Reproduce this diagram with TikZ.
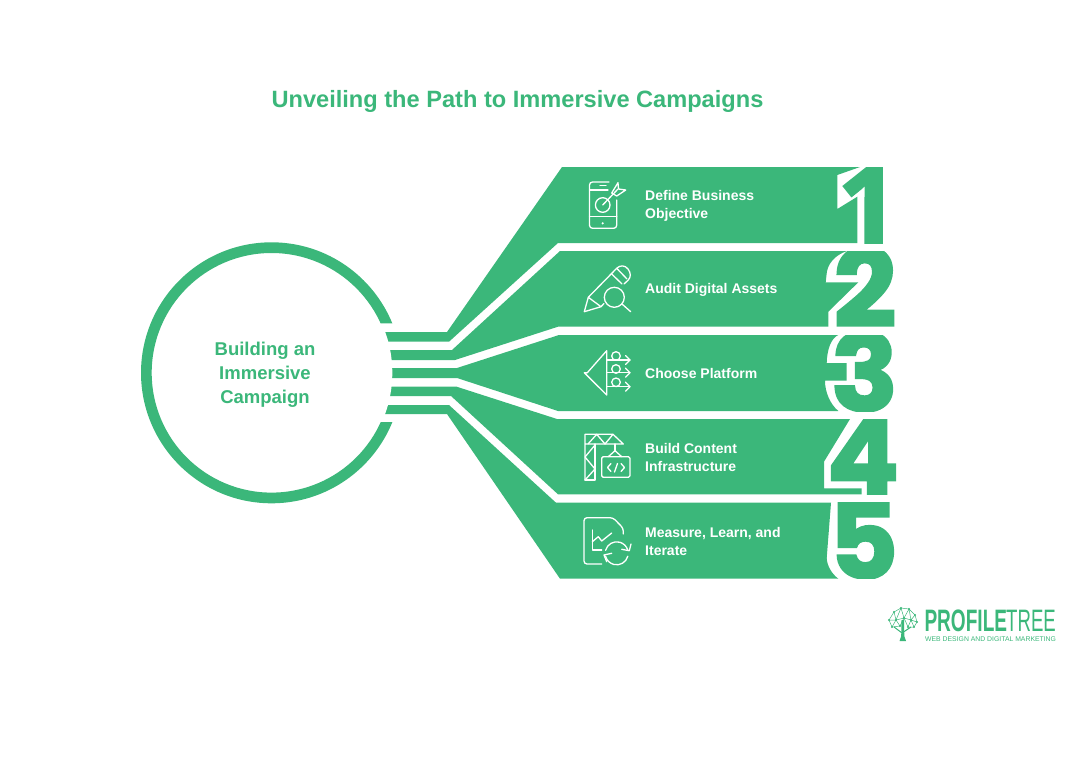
\documentclass[tikz,border=0pt]{standalone}
\usepackage{fontspec}
\setmainfont{Liberation Sans}
\newfontfamily\numface[FakeBold=2]{Poppins Bold}
\newfontfamily\numone[FakeBold=2]{Open Sans Bold}
\definecolor{campgreen}{HTML}{3BB77A}

\tikzset{
  bandfill/.style={fill=campgreen},
  iconline/.style={draw=white,line width=1.3pt,line cap=round,line join=round},
  labeltext/.style={text=white,font=\bfseries\fontsize{14}{18}\selectfont,anchor=west,align=left,inner sep=0pt},
  logoline/.style={draw=campgreen,line width=.5pt}
}

\begin{document}
\begin{tikzpicture}[x=1pt,y=-1pt]
\useasboundingbox (0,0) rectangle (1089,768);

\node[text=campgreen,font=\bfseries\fontsize{23.6}{28}\selectfont,inner sep=0pt] (title) at (517.5,101.5) {Unveiling the Path to Immersive Campaigns};

% bands
\fill[bandfill] (375,332) -- (447,332) -- (562,167) -- (860,167) -- (837.3,175) -- (837.3,209) -- (857.3,196.7) -- (857.3,243) -- (558,243) -- (449,341.7) -- (375,341.7) -- cycle;
\fill[bandfill] (375,350) -- (452,350) -- (560,251) -- (847,251) .. controls (835,255) and (827,264) .. (826.5,275) -- (825.7,282.3) -- (858.3,282.3) -- (828.3,311.7) -- (828.3,326.7) -- (558,326.7) -- (455,360) -- (375,360) -- cycle;
\fill[bandfill] (375,368) -- (457,368) -- (559,335) -- (838.3,335) .. controls (831,338) and (827,350) .. (826.7,363) -- (846.7,363) -- (846.7,380.7) -- (825,380.7) .. controls (825,392) and (830,404) .. (838.3,411) -- (558,411) -- (457,378) -- (375,378) -- cycle;
\fill[bandfill] (375,386.5) -- (456,386.5) -- (557,419) -- (850,419) -- (824,461.7) -- (824,488.3) -- (861.7,488.3) -- (861.7,494.3) -- (558,494.3) -- (451,396) -- (375,396) -- cycle;
\fill[bandfill] (375,405) -- (449,405) -- (556,502.7) -- (831,502.7) -- (826.7,558) .. controls (827,566) and (832,574) .. (838.3,578.7) -- (560,578.7) -- (447,414) -- (375,414) -- cycle;

% circle
\fill[white] (271.5,372.8) circle[radius=120.8];
\begin{scope}
\clip (130,230) rectangle (271.5,515) (271.5,230) rectangle (400,323.3) (271.5,422) rectangle (400,515);
\fill[campgreen,even odd rule] (271.5,372.8) circle[radius=130.5] (271.5,372.8) circle[radius=119.8];
\end{scope}
\node[text=campgreen,font=\bfseries\fontsize{18.5}{24}\selectfont,align=center,inner sep=0pt] (hub) at (265,375) {Building an\\Immersive\\Campaign};

% numbers
\foreach \numname/\numtext/\numfont/\numscale/\numx/\numtop/\numbot in {numa/1/\numone/1/868/167/243,numb/2/\numface/1.03/865/251/326.7,numc/3/\numface/1.04/864.5/335/411,numd/4/\numface/1/863/419/494.3,nume/5/\numface/1/863.5/502.7/578.7}{
  \begin{scope}
  \clip (800,\numtop) rectangle (920,\numbot);
  \node[text=campgreen,font=\numfont\fontsize{107}{107}\selectfont,anchor=base,inner sep=0pt] (\numname) at (\numx,\numbot) {\scalebox{\numscale}[1]{\numtext}};
  \end{scope}
}

% labels
\node[labeltext] (laba) at (645,205.5) {Define Business\\Objective};
\node[labeltext] (labb) at (645,289.5) {Audit Digital Assets};
\node[labeltext] (labc) at (645,373) {Choose Platform};
\node[labeltext] (labd) at (645,457) {Build Content\\Infrastructure};
\node[labeltext] (labe) at (645,541) {Measure, Learn, and\\Iterate};

% icon 1
\draw[iconline,rounded corners=3pt] (609,182) -- (589.5,182) -- (589.5,228.3) -- (616.7,228.3) -- (616.7,200);
\draw[iconline] (589.5,190) -- (608,190);
\draw[iconline] (600,185.5) -- (606,185.5);
\draw[iconline] (589.5,216.7) -- (616.7,216.7);
\fill[white] (602.7,223.3) circle[radius=1.2];
\draw[iconline] (602.7,205) circle[radius=7.3];
\draw[iconline] (602.7,205) -- (618,189);
\draw[iconline] (611.7,193) -- (618,182.7) -- (618.5,189) -- (625.7,190) -- (616.7,196) -- cycle;

% icon 2
\draw[iconline] (584.3,311.7) -- (588.3,297.3) -- (601,306.7) -- cycle;
\draw[iconline] (588.3,297.3) -- (616.7,268.3) .. controls (620,265) and (625,265) .. (628,269) .. controls (631,273) and (631,277) .. (628.3,280) -- (624,284);
\draw[iconline] (611.7,274) -- (622,284);
\draw[iconline] (616.7,268.3) -- (627,279);
\draw[iconline] (601,306.7) -- (604,303.5);
\draw[iconline] (614.3,297.3) circle[radius=10];
\draw[iconline] (622.3,304.3) -- (630.7,311.7);

% icon 3
\draw[iconline] (584.3,372.7) -- (587.3,372.7) -- (606.7,350.7) -- (606.7,395) -- cycle;
\foreach \arry/\loopy in {360/356,372.7/369,386.7/382.3}{
  \draw[iconline] (606.7,\arry) -- (630,\arry);
  \draw[iconline] (625.5,\arry-4.5) -- (630,\arry) -- (625.5,\arry+4.5);
  \draw[iconline] (616,\loopy) circle[radius=4.3];
}

% icon 4
\draw[iconline] (585,480) -- (585,434.3) -- (613,434.3) -- (623.3,444) -- (585,444);
\draw[iconline] (595,444) -- (595,480) -- (585,480);
\draw[iconline] (588,444) -- (596.7,434.3) -- (605,444) -- (613,434.3);
\draw[iconline] (595,445) -- (585,457) -- (595,469) -- (585,480);
\draw[iconline] (615,444) -- (615,450.7);
\draw[iconline] (608.3,456.7) -- (615,450.7) -- (621.7,456.7);
\draw[iconline,rounded corners=1.5pt] (601.7,456.7) rectangle (630,477.3);
\draw[iconline] (611,463.5) -- (607.5,467.5) -- (611,471.5);
\draw[iconline] (617.5,463.5) -- (614.5,472);
\draw[iconline] (621,463.5) -- (624.5,467.5) -- (621,471.5);

% icon 5
\draw[iconline,rounded corners=3pt] (601.7,564) -- (584,564) -- (584,517.7) -- (613,517.7) -- (623.3,528.3) -- (623.3,534);
\draw[iconline] (592.3,530) -- (592.3,550) -- (601.7,550);
\draw[iconline] (592.3,541.7) -- (598.3,536.7) -- (601.7,541) -- (611.7,533);
\draw[iconline] (616.7,553.3) ++(195:11.5) arc[start angle=195,end angle=345,radius=11.5];
\draw[iconline] (621.7,549.3) -- (629.3,550.7) -- (631,544);
\draw[iconline] (616.7,553.3) ++(15:11.5) arc[start angle=15,end angle=165,radius=11.5];
\draw[iconline] (611.7,553.3) -- (604,555) -- (606.7,561.7);

% logo
\foreach \treex/\treey in {894/612,901/608,909/609,915/615,917/622,889/620,896/620,904/618,911/620,892/627,900/626,908/627,914/627}{
  \fill[campgreen] (\treex,\treey) circle[radius=1.1];
}
\draw[logoline] (889,620) -- (894,612) -- (901,608) -- (909,609) -- (915,615) -- (917,622) -- (914,627) -- (908,627) -- (904,618) -- (900,626) -- (892,627) -- (889,620);
\draw[logoline] (894,612) -- (896,620) -- (901,608) -- (904,618) -- (909,609) -- (911,620) -- (915,615) (911,620) -- (917,622) (896,620) -- (904,618) -- (911,620) -- (914,627) (896,620) -- (892,627) (896,620) -- (900,626) (889,620) -- (896,620) (911,620) -- (908,627);
\fill[campgreen] (901.5,620) -- (904,620) -- (904.3,636) -- (906,641) -- (899.5,641) -- (901.2,636) -- cycle;
\draw[campgreen,line width=1pt] (894,627) -- (902,633) -- (911,627);
\node[text=campgreen,font=\bfseries\fontsize{31}{31}\selectfont,anchor=base west,inner sep=0pt] (logoa) at (924.3,631.7) {\scalebox{.615}[1]{PROFILE}};
\node[text=campgreen,font=\fontsize{31}{31}\selectfont,anchor=base east,inner sep=0pt] (logob) at (1056,631.7) {\scalebox{.6}[1]{TREE}};
\node[text=campgreen,font=\fontsize{6.85}{7}\selectfont,anchor=base west,inner sep=0pt] (logoc) at (925,641.7) {WEB DESIGN AND DIGITAL MARKETING};
\end{tikzpicture}
\end{document}
